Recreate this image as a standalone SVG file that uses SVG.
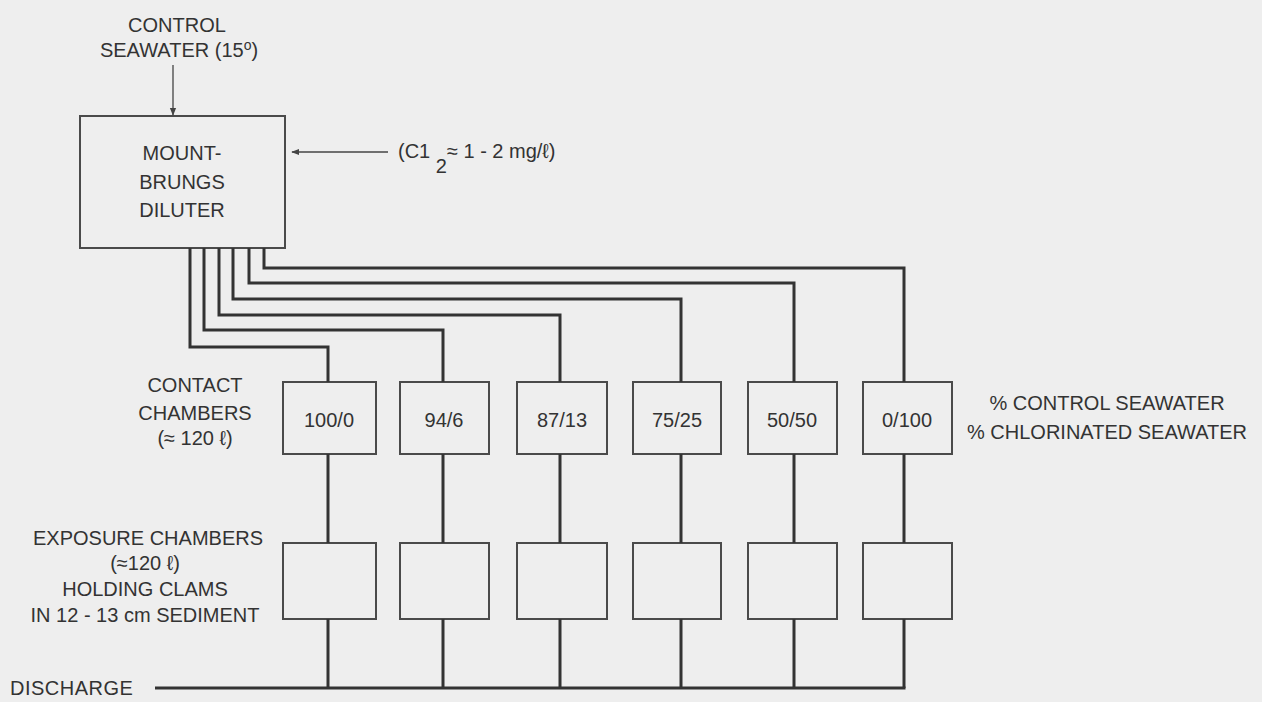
<svg xmlns="http://www.w3.org/2000/svg" width="1262" height="702" viewBox="0 0 1262 702">
<style>
text{font-family:"Liberation Sans","DejaVu Sans",sans-serif;fill:#333;font-size:20px}
.c{text-anchor:middle}
.box{fill:none;stroke:#4a4a4a;stroke-width:2}
.pipe{fill:none;stroke:#333;stroke-width:3;stroke-linejoin:miter}
.thin{fill:none;stroke:#444;stroke-width:1.3}
</style>
<defs>
<marker id="ah" viewBox="0 0 10 10" refX="9" refY="5" markerWidth="8" markerHeight="8" markerUnits="userSpaceOnUse" orient="auto">
<path d="M0,1 L10,5 L0,9 Z" fill="#444"/>
</marker>
</defs>
<rect x="0" y="0" width="1262" height="702" fill="#eeeeee"/>

<g id="control-seawater">
<text class="c" x="177" y="32">CONTROL</text>
<text class="c" x="179" y="57">SEAWATER (15<tspan dy="-7" font-size="14">o</tspan><tspan dy="7">)</tspan></text>
</g>

<g id="chlorine-input">
<text x="398" y="158">(C1 <tspan dy="15">2</tspan><tspan dy="-15">≈ 1 - 2 mg/ℓ)</tspan></text>
</g>

<g id="diluter">
<rect class="box" x="80" y="116" width="205" height="132"/>
<text class="c" x="182" y="160">MOUNT-</text>
<text class="c" x="182" y="189">BRUNGS</text>
<text class="c" x="182" y="217">DILUTER</text>
</g>

<g id="contact-label">
<text class="c" x="195" y="392">CONTACT</text>
<text class="c" x="195" y="420">CHAMBERS</text>
<text class="c" x="195" y="445">(≈ 120 ℓ)</text>
</g>

<g id="ratio-label">
<text class="c" x="1107" y="410">% CONTROL SEAWATER</text>
<text class="c" x="1107" y="439">% CHLORINATED SEAWATER</text>
</g>

<g id="exposure-label">
<text class="c" x="148" y="545">EXPOSURE CHAMBERS</text>
<text class="c" x="145" y="570">(≈120 ℓ)</text>
<text class="c" x="145" y="596">HOLDING CLAMS</text>
<text class="c" x="145" y="622">IN 12 - 13 cm SEDIMENT</text>
</g>

<g id="discharge-label">
<text x="10" y="695" letter-spacing="0.5">DISCHARGE</text>
</g>

<g id="contact-1"><rect class="box" x="283" y="382" width="93" height="72"/><text class="c" x="329" y="427">100/0</text></g>
<g id="contact-2"><rect class="box" x="400" y="382" width="89" height="72"/><text class="c" x="444" y="427">94/6</text></g>
<g id="contact-3"><rect class="box" x="517" y="382" width="90" height="72"/><text class="c" x="562" y="427">87/13</text></g>
<g id="contact-4"><rect class="box" x="633" y="382" width="88" height="72"/><text class="c" x="677" y="427">75/25</text></g>
<g id="contact-5"><rect class="box" x="748" y="382" width="89" height="72"/><text class="c" x="792" y="427">50/50</text></g>
<g id="contact-6"><rect class="box" x="863" y="382" width="89" height="72"/><text class="c" x="907" y="427">0/100</text></g>

<g id="exposure-1"><rect class="box" x="283" y="543" width="93" height="76"/></g>
<g id="exposure-2"><rect class="box" x="400" y="543" width="89" height="76"/></g>
<g id="exposure-3"><rect class="box" x="517" y="543" width="90" height="76"/></g>
<g id="exposure-4"><rect class="box" x="633" y="543" width="88" height="76"/></g>
<g id="exposure-5"><rect class="box" x="748" y="543" width="89" height="76"/></g>
<g id="exposure-6"><rect class="box" x="863" y="543" width="89" height="76"/></g>

<g id="connectors">
<line class="thin" x1="173" y1="65" x2="173" y2="115" marker-end="url(#ah)"/>
<line class="thin" x1="388" y1="152" x2="292" y2="152" marker-end="url(#ah)"/>
<path class="pipe" d="M264,248 V268 H904 V382"/>
<path class="pipe" d="M249,248 V283 H794 V382"/>
<path class="pipe" d="M233,248 V299 H681 V382"/>
<path class="pipe" d="M219,248 V315 H560 V382"/>
<path class="pipe" d="M204,248 V330 H443 V382"/>
<path class="pipe" d="M190,248 V347 H328 V382"/>
<path class="pipe" d="M328,454 V543 M443,454 V543 M560,454 V543 M681,454 V543 M794,454 V543 M904,454 V543"/>
<path class="pipe" d="M328,619 V688 M443,619 V688 M560,619 V688 M681,619 V688 M794,619 V688 M904,619 V688"/>
<line class="pipe" x1="155" y1="688" x2="905.5" y2="688"/>
</g>
</svg>
